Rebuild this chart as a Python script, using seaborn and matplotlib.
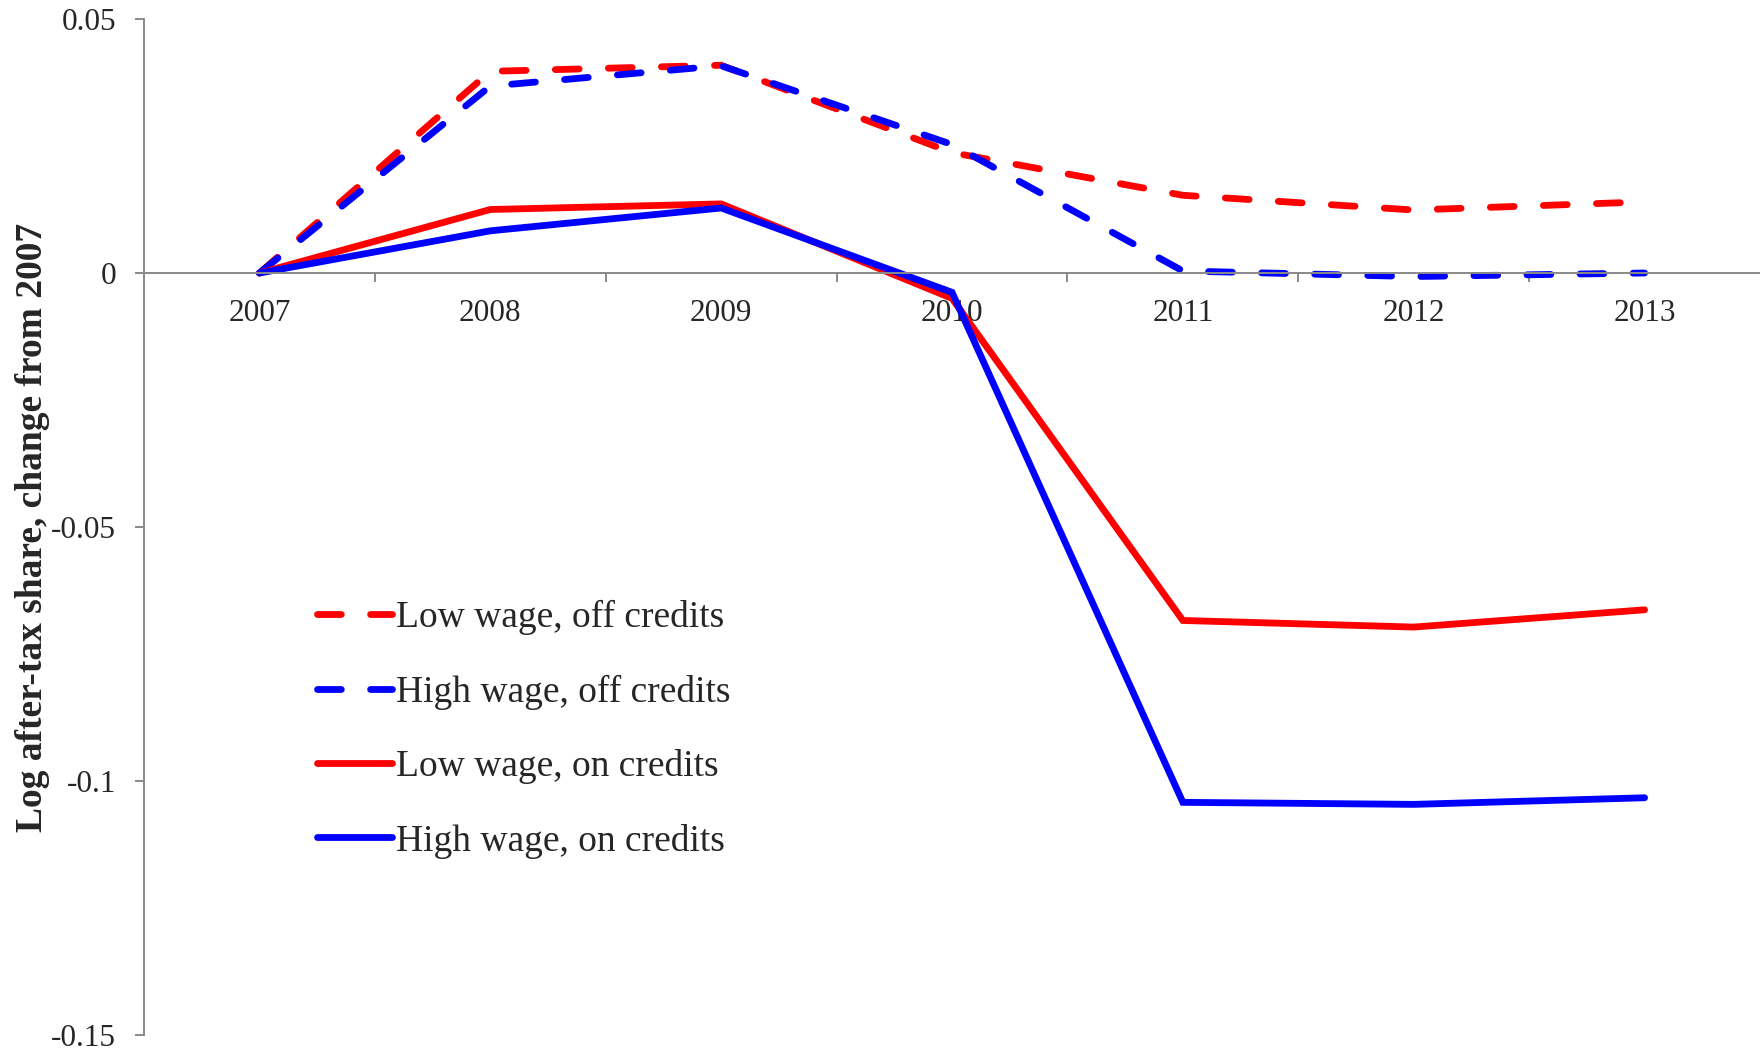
import numpy as np
import pandas as pd
import seaborn as sns
from matplotlib import pyplot as plt

years = [2007, 2008, 2009, 2010, 2011, 2012, 2013]
low_off = [0.0, 0.0397, 0.0409, 0.0237, 0.0153, 0.0124, 0.0140]
high_off = [0.0, 0.0368, 0.0408, 0.0253, 0.0004, -0.0007, 0.0]
low_on = [0.0, 0.0125, 0.0136, -0.0050, -0.0684, -0.0697, -0.0663]
high_on = [0.0, 0.0083, 0.0128, -0.0038, -0.1042, -0.1046, -0.1033]

series_names = ['Low wage, off credits', 'High wage, off credits',
                'Low wage, on credits', 'High wage, on credits']
series_values = [low_off, high_off, low_on, high_on]
series_colors = ['#FF0000', '#0000FF', '#FF0000', '#0000FF']
series_dashed = [True, True, False, False]

y_ticks = [-0.15, -0.1, -0.05, 0, 0.05]
y_tick_labels = ['-0.15', '-0.1', '-0.05', '0', '0.05']

sns.set_style('white')
plt.rcParams['font.family'] = ['Liberation Serif', 'DejaVu Serif']

fig = plt.figure(figsize=(17.6, 10.54), dpi=100)
ax = fig.add_axes([144 / 1760, 19 / 1054, 1616 / 1760, 1016 / 1054])

lw = 4.9
for name, vals, col, dashed in zip(series_names, series_values, series_colors, series_dashed):
    df = pd.DataFrame({'year': years, 'value': vals})
    if dashed:
        sns.lineplot(data=df, x='year', y='value', ax=ax, color=col, lw=lw,
                     linestyle=(0, (3.5, 4.3)), dash_capstyle='round',
                     solid_capstyle='round', label=name)
    else:
        sns.lineplot(data=df, x='year', y='value', ax=ax, color=col, lw=lw,
                     solid_capstyle='round', solid_joinstyle='miter', label=name)

ax.set_xlim(2006.5, 2013.5)
ax.set_ylim(-0.15, 0.05)

# axes look like the spreadsheet original: x axis crosses at zero
for s in ['top', 'right']:
    ax.spines[s].set_visible(False)
ax.spines['bottom'].set_position(('data', 0))
for s in ['left', 'bottom']:
    ax.spines[s].set_color('#898989')
    ax.spines[s].set_linewidth(1.4)

ax.set_xticks(years)
ax.set_xticklabels([str(y) for y in years])
ax.set_xticks(np.arange(2007.5, 2013.5, 1.0), minor=True)
ax.tick_params(axis='x', which='major', length=0, pad=19, labelsize=22.5)
ax.tick_params(axis='x', which='minor', bottom=True, direction='out', length=6.5,
               width=1.4, color='#898989')
ax.set_yticks(y_ticks)
ax.set_yticklabels(y_tick_labels)
ax.tick_params(axis='y', which='major', left=True, direction='out', length=6.5,
               width=1.4, color='#898989', pad=13.5, labelsize=22.5)

ax.set_xlabel('')
ax.set_ylabel('Log after-tax share, change from 2007', fontsize=27,
              fontweight='bold')
ax.yaxis.set_label_coords(-0.058, 0.5)

ax.legend(loc='upper left', bbox_to_anchor=(0.107, 0.428), frameon=False,
          fontsize=27, borderpad=0, borderaxespad=0, handlelength=2.0,
          handletextpad=0.12, labelspacing=1.05)

fig.savefig('out.png', dpi=100)
